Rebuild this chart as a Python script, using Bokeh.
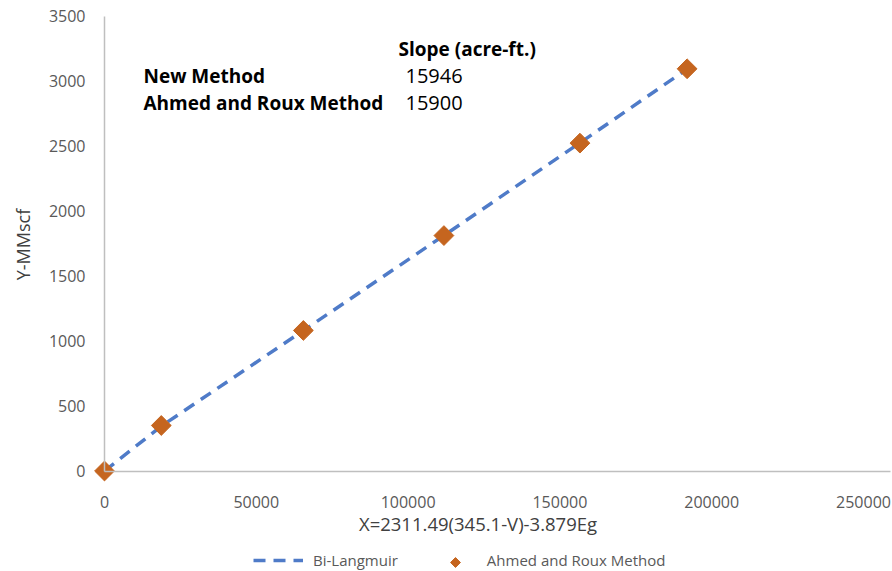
import math
from bokeh.plotting import figure
from bokeh.models import (Range1d, Legend, LegendItem, Label, FixedTicker,
                          ColumnDataSource, NumeralTickFormatter)
from bokeh.embed import file_html
from bokeh.resources import INLINE

# ---- data ----
x_vals = [0, 18700, 65500, 111800, 156600, 191900]
ahmed_roux_y = [0, 350, 1081, 1811, 2522, 3094]
bi_langmuir_y = [0, 345, 1080, 1812, 2524, 3092]
x_ticks = [0, 50000, 100000, 150000, 200000, 250000]
y_ticks = [0, 500, 1000, 1500, 2000, 2500, 3000, 3500]
x_axis_end = 258900
y_axis_end = 3500

series_names = ["Bi-Langmuir", "Ahmed and Roux Method"]
table_rows = ["New Method", "Ahmed and Roux Method"]
table_values = ["15946", "15900"]
table_header = "Slope (acre-ft.)"
x_title = "X=2311.49(345.1-V)-3.879Eg"
y_title = "Y-MMscf"

FONT = "Open Sans"
GREY = "#595959"
AXIS = "#BFBFBF"
BLUE = "#4F7BC8"
ORANGE = "#C5651F"

# page geometry: the frame fills the whole page, axes are drawn at 0
W, H = 892, 571
X0_PX, PX_PER_X = 104, 0.003036    # where x=0 lies, px per x unit
Y0_PX, PX_PER_Y = 470.5, 0.13      # where y=0 lies (from top), px per y unit

src_line = ColumnDataSource(dict(x=x_vals, y=bi_langmuir_y))
src_pts = ColumnDataSource(dict(x=x_vals, y=ahmed_roux_y))

p = figure(width=W, height=H, output_backend="svg", toolbar_location=None,
           x_range=Range1d(-X0_PX / PX_PER_X, (W - X0_PX) / PX_PER_X),
           y_range=Range1d(-(H - Y0_PX) / PX_PER_Y, Y0_PX / PX_PER_Y),
           min_border=0, min_border_left=0, min_border_right=0,
           min_border_top=0, min_border_bottom=0)
p.outline_line_color = None
p.grid.visible = False
p.background_fill_color = "white"
p.border_fill_color = "white"

line_r = p.line("x", "y", source=src_line, line_color=BLUE, line_width=3.5,
                line_dash="12 8")
pts_r = p.scatter("x", "y", source=src_pts, marker="square", angle=math.pi / 4,
                  size=14, fill_color=ORANGE, line_color=ORANGE)

for ax in (p.xaxis[0], p.yaxis[0]):
    ax.fixed_location = 0
    ax.axis_line_color = AXIS
    ax.axis_line_width = 1.5
    ax.major_tick_line_color = None
    ax.minor_tick_line_color = None
    ax.major_label_text_font = FONT
    ax.major_label_text_font_size = "16px"
    ax.major_label_text_color = GREY
    ax.formatter = NumeralTickFormatter(format="0")

p.xaxis.bounds = (0, x_axis_end)
p.yaxis.bounds = (0, y_axis_end)
p.xaxis.ticker = FixedTicker(ticks=x_ticks)
p.yaxis.ticker = FixedTicker(ticks=y_ticks)
p.xaxis.major_label_standoff = 19
p.yaxis.major_label_standoff = 13


def dx(px):
    return (px - X0_PX) / PX_PER_X


def dy(py):
    return (Y0_PX - py) / PX_PER_Y


# axis titles
p.add_layout(Label(x=dx(477.5), y=dy(523), text=x_title, text_font=FONT,
                   text_font_size="18.5px", text_color="#404040",
                   text_align="center", text_baseline="middle"))
p.add_layout(Label(x=dx(22), y=dy(244), text=y_title, text_font=FONT,
                   text_font_size="18px", text_color="#404040", angle=math.pi / 2,
                   text_align="center", text_baseline="middle"))

# annotation table
row_py = [75, 102]
for name, val, py in zip(table_rows, table_values, row_py):
    p.add_layout(Label(x=dx(143), y=dy(py), text=name, text_font=FONT, text_font_size="19px",
                       text_font_style="bold", text_color="black", text_baseline="middle"))
    p.add_layout(Label(x=dx(405), y=dy(py), text=val, text_font=FONT, text_font_size="20px",
                       text_color="black", text_baseline="middle"))
p.add_layout(Label(x=dx(398), y=dy(48), text=table_header, text_font=FONT, text_font_size="19px",
                   text_font_style="bold", text_color="black", text_baseline="middle"))

# legend (the diamond key is drawn rotated on top of the second, glyph-less item)
legend = Legend(items=[LegendItem(label=series_names[0], renderers=[line_r]),
                       LegendItem(label=series_names[1], renderers=[])],
                orientation="horizontal", location=(253, 1),
                glyph_width=50, glyph_height=18, label_standoff=10, spacing=29,
                border_line_color=None, background_fill_alpha=0,
                label_text_font=FONT, label_text_font_size="15px",
                label_text_color=GREY, padding=0, margin=0)
p.add_layout(legend, "center")
key_src = ColumnDataSource(dict(x=[dx(455)], y=[dy(562)]))
p.scatter("x", "y", source=key_src, marker="square", angle=math.pi / 4,
          size=7, fill_color=ORANGE, line_color=ORANGE)

open("out.html", "w").write(file_html(p, INLINE))
